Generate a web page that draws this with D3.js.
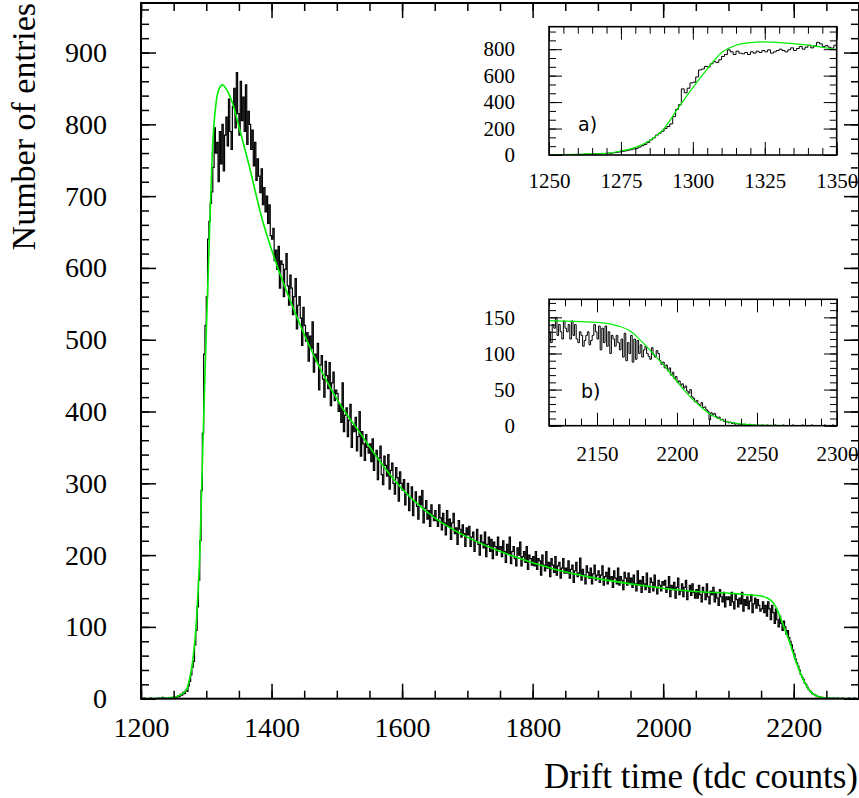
<!DOCTYPE html>
<html>
<head>
<meta charset="utf-8">
<script src="https://cdn.jsdelivr.net/npm/d3@7"></script>
<style>
  body { margin: 0; background: #fff; }
  svg { display: block; }
  text { font-family: "Liberation Serif", "Times New Roman", serif; fill: #000; }
</style>
</head>
<body>
<svg id="chart" width="859" height="798"></svg>
<script>
// main histogram, 2 tdc counts per bin (entries per count)
var mainStart = 1200,
   mainBin = 2,
   mainCounts = [
      0, 0, 1, 0, 0, 0, 0, 1, 0, 0, 0, 0, 0, 1, 0, 0, 2, 0, 1, 0, 0, 1, 1, 0, 2,
      1, 3, 2, 4, 3, 6, 5, 9, 7, 12, 10, 18, 24, 33, 44, 52, 75, 95, 128, 165, 220, 290, 370, 480, 520,
      560, 640, 665, 690, 706, 740, 795, 760, 775, 720, 790, 745, 800, 735, 785, 810, 770, 835, 790, 765, 825, 850, 795, 872, 815,
      785, 860, 805, 838, 790, 855, 772, 818, 800, 765, 792, 742, 775, 722, 752, 728, 705, 738, 688, 712, 678, 700, 662, 688, 645,
      640, 655, 610, 625, 598, 630, 572, 610, 605, 560, 598, 620, 575, 548, 590, 572, 535, 560, 585, 515, 548, 560, 530, 492, 545,
      520, 498, 510, 470, 505, 488, 525, 455, 480, 470, 495, 430, 465, 478, 445, 420, 470, 450, 432, 468, 408, 440, 455, 415, 430,
      425, 400, 410, 385, 440, 372, 395, 405, 365, 388, 410, 350, 380, 372, 392, 345, 365, 400, 338, 372, 355, 332, 368, 350, 342,
      355, 330, 362, 318, 340, 346, 305, 335, 352, 312, 298, 338, 325, 310, 340, 292, 318, 328, 300, 285, 322, 308, 275, 316, 300,
      290, 305, 270, 285, 300, 262, 280, 295, 255, 275, 288, 268, 250, 282, 270, 290, 245, 265, 276, 250, 262, 240, 270, 255, 248,
      262, 248, 240, 270, 252, 235, 258, 245, 228, 262, 240, 250, 222, 245, 258, 230, 238, 215, 248, 236, 225, 242, 230, 212, 238,
      228, 240, 212, 225, 232, 205, 220, 236, 215, 200, 228, 218, 210, 232, 198, 215, 225, 205, 222, 195, 218, 212, 200, 225, 208,
      212, 198, 220, 205, 190, 215, 202, 225, 188, 205, 212, 195, 185, 210, 200, 218, 185, 198, 205, 190, 212, 180, 200, 195, 186,
      198, 185, 205, 180, 195, 192, 172, 200, 186, 178, 205, 182, 190, 170, 195, 186, 176, 198, 172, 185, 190, 168, 182, 195, 175,
      182, 175, 192, 168, 180, 186, 162, 178, 190, 170, 175, 196, 165, 180, 172, 160, 185, 176, 168, 182, 160, 174, 186, 165, 172,
      178, 162, 172, 185, 158, 170, 176, 160, 182, 165, 170, 155, 178, 168, 160, 182, 158, 170, 165, 152, 176, 168, 158, 175, 162,
      168, 155, 172, 160, 150, 178, 158, 165, 148, 170, 160, 152, 175, 156, 148, 168, 162, 150, 172, 155, 146, 165, 158, 150, 163,
      158, 165, 148, 155, 170, 142, 158, 152, 162, 140, 155, 168, 145, 150, 160, 142, 155, 165, 138, 150, 158, 144, 160, 148, 140,
      152, 140, 158, 145, 135, 155, 148, 138, 160, 142, 132, 150, 145, 155, 135, 148, 140, 130, 152, 142, 135, 148, 128, 142, 138,
      142, 130, 148, 135, 125, 145, 138, 128, 140, 132, 148, 122, 138, 130, 142, 125, 136, 145, 120, 132, 140, 126, 138, 130, 122,
      125, 135, 120, 130, 115, 135, 125, 110, 130, 120, 105, 125, 110, 100, 115, 105, 95, 108, 100, 90, 95, 85, 80, 75, 68,
      62, 55, 50, 45, 40, 34, 30, 27, 22, 20, 16, 13, 11, 9, 7, 6, 5, 4, 3, 3, 2, 2, 1, 1, 1,
      1, 0, 1, 0, 0, 1, 0, 0, 1, 0, 0, 0, 1, 0, 0, 0, 0, 1, 0, 0, 0, 1, 0, 0, 0
   ];

// inset a) rising edge, 1 count per bin
var insetAStart = 1250,
   insetACounts = [
      1, 2, 0, 3, 2, 1, 2, 3, 4, 2,
      5, 4, 6, 7, 5, 9, 8, 10, 12, 11,
      14, 13, 17, 20, 23, 27, 30, 35, 40, 46,
      50, 60, 70, 80, 95, 115, 130, 150, 165, 180,
      200, 215, 235, 290, 345, 380, 500, 470, 505, 545,
      550, 590, 643, 650, 670, 665, 690, 706, 700, 720,
      745, 760, 795, 780, 760, 785, 770, 765, 775, 760,
      780, 770, 785, 775, 790, 780, 795, 770, 780, 790,
      800, 790, 780, 795, 810, 790, 805, 820, 800, 815,
      830, 810, 825, 852, 840, 820, 827, 815, 808, 830
   ];

// inset b) trailing edge, 1 count per bin
var insetBStart = 2120,
   insetBCounts = [
      130, 115, 140, 135, 150, 125, 140, 130, 120, 145,
      135, 130, 140, 120, 145, 125, 140, 120, 115, 130,
      125, 110, 118, 125, 130, 112, 118, 125, 140, 130,
      120, 138, 105, 135, 115, 138, 110, 130, 100, 125,
      120, 110, 125, 115, 105, 120, 95, 128, 90, 115,
      100, 125, 88, 120, 92, 118, 100, 112, 95, 105,
      110, 100, 96, 92, 108, 98, 95, 104, 100, 90,
      85, 88, 80, 84, 76, 80, 70, 74, 65, 68,
      60, 62, 56, 58, 52, 55, 48, 45, 50, 40,
      38, 33, 35, 30, 28, 32, 25, 26, 22, 20,
      8, 18, 15, 17, 13, 10, 12, 8, 9, 6,
      5, 6, 4, 5, 3, 4, 2, 3, 2, 2,
      2, 1, 2, 1, 1, 2, 0, 1, 1, 0,
      1, 0, 0, 1, 0, 0, 1, 0, 0, 0,
      0, 1, 0, 0, 0, 0, 1, 0, 0, 0,
      0, 0, 1, 0, 0, 0, 0, 0, 1, 0,
      0, 0, 0, 0, 1, 0, 0, 0, 0, 0,
      0, 0, 1, 0, 0, 0, 0, 1, 0, 0
   ];

// fitted curve (green)
var fitX = [1200, 1230, 1250, 1260, 1265, 1270, 1275, 1280, 1285, 1290, 1295, 1300, 1305, 1310, 1315,
      1320, 1325, 1330, 1340, 1350, 1365, 1385, 1405, 1435, 1470, 1505, 1535, 1560, 1600, 1650,
      1700, 1765, 1835, 1890, 1965, 2040, 2115, 2140, 2150, 2160, 2165, 2170, 2175, 2180, 2185,
      2190, 2195, 2200, 2205, 2210, 2215, 2220, 2225, 2230, 2240, 2250, 2270, 2300],
   fitY = [0, 0.5, 2, 5, 8, 13, 30, 58, 110, 200, 360, 510, 650, 775, 830,
      850, 855, 850, 830, 797, 745, 670, 612, 540, 468, 410, 371, 338, 292, 252,
      225, 200, 180, 169, 158, 150, 146, 144, 143, 140, 137, 132, 123, 112, 100,
      88, 75, 61, 48, 36, 26, 17, 11, 6.5, 2.5, 1, 0.2, 0];

// tick labels
var mainXTicks = [1200, 1400, 1600, 1800, 2000, 2200],
   mainYTicks = [0, 100, 200, 300, 400, 500, 600, 700, 800, 900],
   insetAXTicks = [1250, 1275, 1300, 1325, 1350],
   insetAYTicks = [0, 200, 400, 600, 800],
   insetBXTicks = [2150, 2200, 2250, 2300],
   insetBYTicks = [0, 50, 100, 150];

(function () {
   "use strict";

   var svg = d3.select('#chart'),
      serif = '"Liberation Serif", "Times New Roman", serif',
      fitPts = fitX.map(function (x, i) { return [x, fitY[i]]; });

   function histPoints(start, bin, counts) {
      var pts = counts.map(function (c, i) { return [start + i * bin, c]; });
      pts.push([start + counts.length * bin, counts[counts.length - 1]]);
      return pts;
   }

   function drawPanel(o) {
      var x = d3.scaleLinear().domain(o.xDomain).range([o.left, o.right]),
         y = d3.scaleLinear().domain(o.yDomain).range([o.bottom, o.top]),
         g = svg.append('g'),
         clipId = 'clip-' + o.id,
         axes;

      g.append('rect')
         .attr('x', o.left).attr('y', o.top)
         .attr('width', o.right - o.left).attr('height', o.bottom - o.top)
         .attr('fill', '#fff');

      g.append('clipPath').attr('id', clipId)
         .append('rect')
         .attr('x', o.left).attr('y', o.top)
         .attr('width', o.right - o.left).attr('height', o.bottom - o.top);

      //histogram as a step line
      g.append('path')
         .datum(o.hist)
         .attr('clip-path', 'url(#' + clipId + ')')
         .attr('fill', 'none')
         .attr('stroke', '#000')
         .attr('stroke-width', o.histWidth)
         .attr('d', d3.line().curve(d3.curveStepAfter)
            .x(function (d) { return x(d[0]); })
            .y(function (d) { return y(d[1]); }));

      //fit
      g.append('path')
         .datum(fitPts)
         .attr('clip-path', 'url(#' + clipId + ')')
         .attr('fill', 'none')
         .attr('stroke', '#00ee00')
         .attr('stroke-width', o.fitWidth)
         .attr('d', d3.line().curve(d3.curveMonotoneX)
            .x(function (d) { return x(d[0]); })
            .y(function (d) { return y(d[1]); }));

      axes = g.append('g');

      function addAxis(axis, tx, ty, labels) {
         var a = axes.append('g')
            .attr('transform', 'translate(' + tx + ',' + ty + ')')
            .call(axis);
         a.select('.domain').remove();
         a.selectAll('line').attr('stroke-width', o.tickWidth);
         if (!labels) {
            a.selectAll('text').remove();
         } else {
            a.selectAll('text')
               .style('font-family', serif)
               .style('font-size', o.font + 'px');
         }
         return a;
      }

      //minor ticks on all four sides
      addAxis(d3.axisBottom(x).tickValues(o.xMinor).tickSize(-o.minLen).tickSizeOuter(0), 0, o.bottom, false);
      addAxis(d3.axisTop(x).tickValues(o.xMinor).tickSize(-o.minLen).tickSizeOuter(0), 0, o.top, false);
      addAxis(d3.axisLeft(y).tickValues(o.yMinor).tickSize(-o.minLen).tickSizeOuter(0), o.left, 0, false);
      addAxis(d3.axisRight(y).tickValues(o.yMinor).tickSize(-o.minLen).tickSizeOuter(0), o.right, 0, false);

      //major ticks, labelled on bottom and left
      addAxis(d3.axisBottom(x).tickValues(o.xMajor).tickSize(-o.majLen).tickSizeOuter(0)
         .tickPadding(o.xPad).tickFormat(d3.format('d')), 0, o.bottom, true);
      addAxis(d3.axisTop(x).tickValues(o.xMajor).tickSize(-o.majLen).tickSizeOuter(0), 0, o.top, false);
      addAxis(d3.axisLeft(y).tickValues(o.yMajor).tickSize(-o.majLen).tickSizeOuter(0)
         .tickPadding(o.yPad).tickFormat(d3.format('d')), o.left, 0, true);
      addAxis(d3.axisRight(y).tickValues(o.yMajor).tickSize(-o.majLen).tickSizeOuter(0), o.right, 0, false);

      //frame
      g.append('rect')
         .attr('x', o.left).attr('y', o.top)
         .attr('width', o.right - o.left).attr('height', o.bottom - o.top)
         .attr('fill', 'none')
         .attr('stroke', '#000')
         .attr('stroke-width', o.frameWidth);

      return g;
   }

   //main plot
   drawPanel({
      id: 'main',
      left: 141, right: 859, top: 3, bottom: 698.7,
      xDomain: [1200, 2300], yDomain: [0, 969],
      xMajor: mainXTicks, xMinor: d3.range(1200, 2301, 50),
      yMajor: mainYTicks, yMinor: d3.range(0, 969, 20),
      majLen: 15, minLen: 8, xPad: 18, yPad: 34, font: 28,
      tickWidth: 1.5, frameWidth: 2,
      hist: histPoints(mainStart, mainBin, mainCounts),
      histWidth: 1.2, fitWidth: 1.6
   });

   //inset a)
   var ga = drawPanel({
      id: 'a',
      left: 549, right: 836.7, top: 26.7, bottom: 155,
      xDomain: [1250, 1350], yDomain: [0, 970],
      xMajor: insetAXTicks, xMinor: d3.range(1250, 1351, 5),
      yMajor: insetAYTicks, yMinor: d3.range(0, 970, 200 / 3),
      majLen: 13, minLen: 7, xPad: 18, yPad: 34, font: 21,
      tickWidth: 1, frameWidth: 1.6,
      hist: histPoints(insetAStart, 1, insetACounts),
      histWidth: 1, fitWidth: 1.2
   });
   ga.append('text')
      .attr('x', 578).attr('y', 131)
      .style('font-family', '"DejaVu Sans", sans-serif')
      .attr('font-size', 19)
      .text('a)');

   //inset b)
   var gb = drawPanel({
      id: 'b',
      left: 549, right: 837, top: 299.3, bottom: 425.7,
      xDomain: [2120, 2300], yDomain: [0, 175],
      xMajor: insetBXTicks, xMinor: d3.range(2120, 2301, 10),
      yMajor: insetBYTicks, yMinor: d3.range(0, 176, 10),
      majLen: 13, minLen: 7, xPad: 20, yPad: 34, font: 21,
      tickWidth: 1, frameWidth: 1.6,
      hist: histPoints(insetBStart, 1, insetBCounts),
      histWidth: 1, fitWidth: 1.2
   });
   gb.append('text')
      .attr('x', 581).attr('y', 398)
      .style('font-family', '"DejaVu Sans", sans-serif')
      .attr('font-size', 19)
      .text('b)');

   //axis titles
   svg.append('text')
      .attr('x', 858).attr('y', 788)
      .attr('text-anchor', 'end')
      .attr('font-size', 35)
      .text('Drift time (tdc counts)');

   svg.append('text')
      .attr('transform', 'translate(35,3) rotate(-90)')
      .attr('text-anchor', 'end')
      .attr('font-size', 34)
      .text('Number of entries');
}());
</script>
</body>
</html>
